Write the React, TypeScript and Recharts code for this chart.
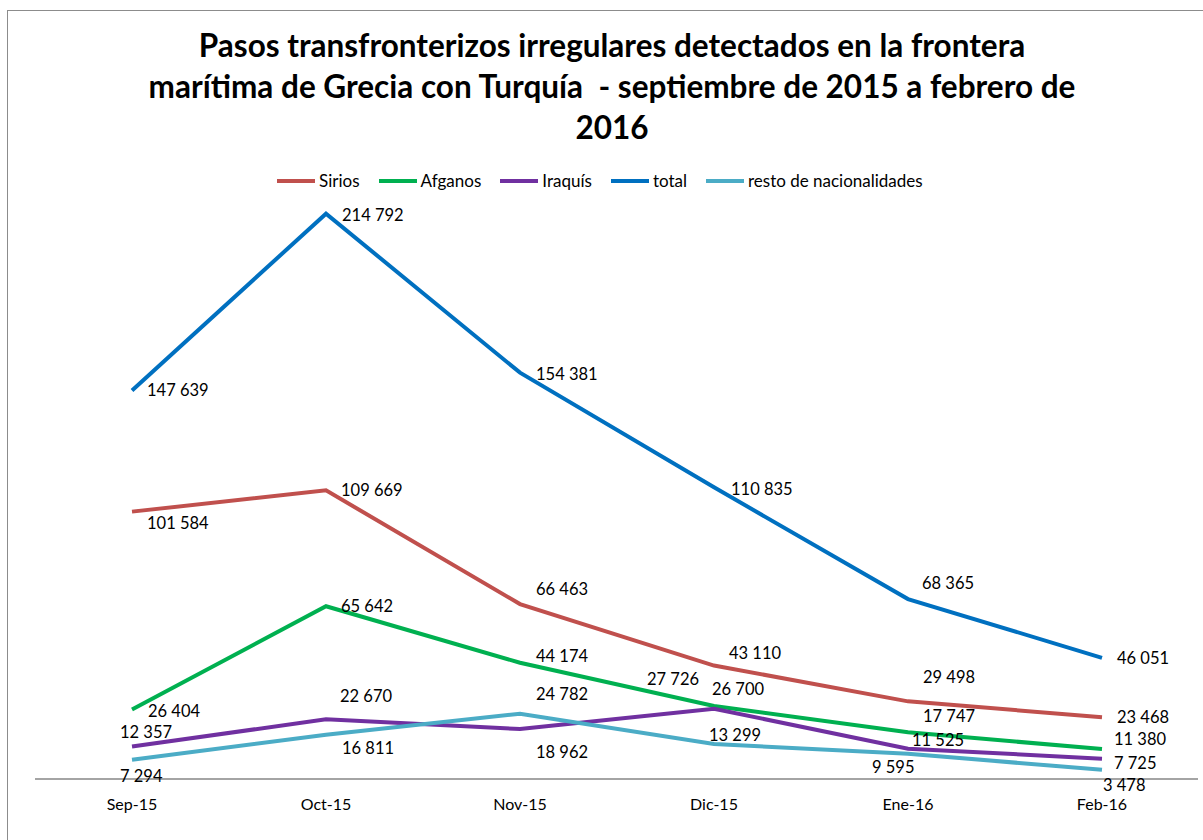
import React from 'react';
import { LineChart, Line, XAxis, YAxis, LabelList } from 'recharts';

const months = ['Sep-15', 'Oct-15', 'Nov-15', 'Dic-15', 'Ene-16', 'Feb-16'];
const sirios = [101584, 109669, 66463, 43110, 29498, 23468];
const afganos = [26404, 65642, 44174, 27726, 17747, 11380];
const iraquis = [12357, 22670, 18962, 26700, 11525, 7725];
const total = [147639, 214792, 154381, 110835, 68365, 46051];
const resto = [7294, 16811, 24782, 13299, 9595, 3478];

const series = [
  { key: 'sirios', name: 'Sirios', color: '#c0504d', values: sirios },
  { key: 'afganos', name: 'Afganos', color: '#00b050', values: afganos },
  { key: 'iraquis', name: 'Iraquís', color: '#7030a0', values: iraquis },
  { key: 'total', name: 'total', color: '#0070c0', values: total },
  { key: 'resto', name: 'resto de nacionalidades', color: '#4bacc6', values: resto },
];

const data = months.map((m, i) => {
  const row: any = { month: m };
  series.forEach((s) => (row[s.key] = s.values[i]));
  return row;
});

// where each data label sits relative to its point (dx to text start, dy to text middle)
const labelOffsets: Record<string, number[][]> = {
  sirios: [[15, 11], [15, 0], [16, -15], [15, -13], [15, -24], [15, 0]],
  afganos: [[16, 1], [15, 0], [16, -7], [-67, -27], [15, -16], [12, -10]],
  iraquis: [[-12, -14], [14, -23], [16, 23], [-2, -20], [4, -9], [12, 4]],
  total: [[15, 0], [16, 1], [16, 1], [17, 2], [14, -16], [15, 0]],
  resto: [[-12, 16], [16, 13], [16, -20], [-5, -9], [-36, 13], [1, 15]],
};

const FONT = 'Lato, "Open Sans", sans-serif';

const fmt = (v: number) => String(v).replace(/\B(?=(\d{3})+(?!\d))/g, ' ');

const makeLabel = (key: string) => (props: any) => {
  const { x, y, value, index } = props;
  const [dx, dy] = labelOffsets[key][index] || [15, 0];
  return (
    <text
      x={x + dx}
      y={y + dy}
      dominantBaseline="central"
      textAnchor="start"
      fontSize={16.5}
      fontFamily={FONT}
      fill="#000"
    >
      {fmt(value)}
    </text>
  );
};

export default function App() {
  return (
    <div
      style={{
        position: 'fixed',
        left: 0,
        top: 0,
        width: 1203,
        height: 840,
        overflow: 'hidden',
        background: '#fff',
        fontFamily: FONT,
      }}
    >
      <div
        style={{
          position: 'absolute',
          left: 7,
          top: 10,
          width: 1300,
          height: 900,
          borderLeft: '1px solid #8c8c8c',
          borderTop: '1px solid #8c8c8c',
        }}
      />
      <div
        style={{
          position: 'absolute',
          left: 0,
          top: 25,
          width: 1224,
          textAlign: 'center',
          fontWeight: 700,
          fontSize: 31.5,
          lineHeight: '41px',
          color: '#000',
          whiteSpace: 'pre',
        }}
      >
        <div>Pasos transfronterizos irregulares detectados en la frontera</div>
        <div>marítima de Grecia con Turquía  - septiembre de 2015 a febrero de</div>
        <div>2016</div>
      </div>
      <div
        style={{
          position: 'absolute',
          left: 277,
          top: 170,
          display: 'flex',
          alignItems: 'center',
          fontSize: 17,
          color: '#000',
        }}
      >
        {series.map((s) => (
          <div key={s.key} style={{ display: 'flex', alignItems: 'center', marginRight: 19 }}>
            <span style={{ display: 'inline-block', width: 38, height: 4, background: s.color, marginRight: 4 }} />
            <span>{s.name}</span>
          </div>
        ))}
      </div>
      <LineChart
        width={1203}
        height={840}
        data={data}
        margin={{ top: 121, right: 5, left: 35, bottom: 31 }}
        style={{ position: 'absolute', left: 0, top: 0 }}
      >
        <XAxis
          dataKey="month"
          height={30}
          padding={{ left: 97, right: 96 }}
          axisLine={{ stroke: '#868686', strokeWidth: 1.5 }}
          tickLine={false}
          tickMargin={14}
          interval={0}
          tick={{ fill: '#000', fontSize: 16, fontFamily: FONT }}
        />
        <YAxis hide domain={[0, 250000]} />
        {series.map((s) => (
          <Line
            key={s.key}
            type="linear"
            dataKey={s.key}
            name={s.name}
            stroke={s.color}
            strokeWidth={4}
            dot={false}
            activeDot={false}
            isAnimationActive={false}
          >
            <LabelList dataKey={s.key} content={makeLabel(s.key)} />
          </Line>
        ))}
      </LineChart>
    </div>
  );
}
